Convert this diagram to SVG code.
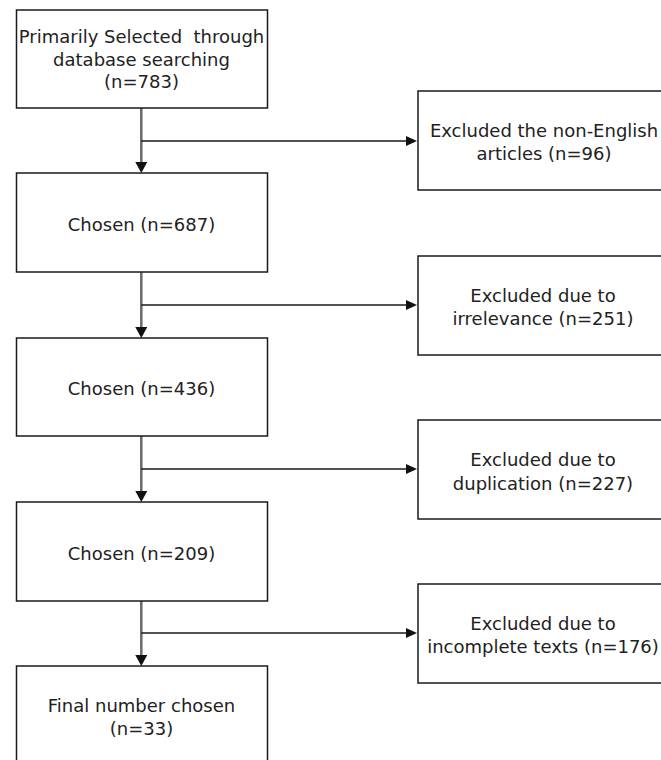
<svg xmlns="http://www.w3.org/2000/svg" width="661" height="760" viewBox="0 0 661 760">
  <style>
    .box { fill: #ffffff; stroke: #1a1a1a; stroke-width: 1.5; }
    .lbl { font-family: "DejaVu Sans", "Liberation Sans", sans-serif; font-size: 18px; fill: #222222; text-anchor: middle; white-space: pre; }
    .vline { stroke: #6a6a6a; stroke-width: 2.5; fill: none; }
    .hline { stroke: #1a1a1a; stroke-width: 1.3; fill: none; }
  </style>
  <defs>
    <marker id="arrowDown" markerUnits="userSpaceOnUse" markerWidth="12" markerHeight="12" refX="0" refY="6" orient="auto">
      <path d="M0,0 L11,6 L0,12 z" fill="#111111"/>
    </marker>
    <marker id="arrowRight" markerUnits="userSpaceOnUse" markerWidth="12" markerHeight="10" refX="0" refY="5" orient="auto">
      <path d="M0,0 L11,5 L0,10 z" fill="#111111"/>
    </marker>
  </defs>
  <rect width="661" height="760" fill="#ffffff"/>

  <g id="connectors">
    <line class="vline" x1="141.3" y1="108" x2="141.3" y2="162" marker-end="url(#arrowDown)"/>
    <line class="hline" x1="141.3" y1="141" x2="406" y2="141" marker-end="url(#arrowRight)"/>
    <line class="vline" x1="141.3" y1="272" x2="141.3" y2="327" marker-end="url(#arrowDown)"/>
    <line class="hline" x1="141.3" y1="305" x2="406" y2="305" marker-end="url(#arrowRight)"/>
    <line class="vline" x1="141.3" y1="436" x2="141.3" y2="491" marker-end="url(#arrowDown)"/>
    <line class="hline" x1="141.3" y1="469" x2="406" y2="469" marker-end="url(#arrowRight)"/>
    <line class="vline" x1="141.3" y1="601" x2="141.3" y2="655" marker-end="url(#arrowDown)"/>
    <line class="hline" x1="141.3" y1="633" x2="406" y2="633" marker-end="url(#arrowRight)"/>
  </g>

  <g id="n1">
    <rect class="box" x="16.5" y="10" width="251" height="98"/>
    <text class="lbl" x="141.5" y="43">Primarily Selected  through</text>
    <text class="lbl" x="141.5" y="66">database searching</text>
    <text class="lbl" x="141.5" y="88">(n=783)</text>
  </g>
  <g id="n2">
    <rect class="box" x="16.5" y="173" width="251" height="99"/>
    <text class="lbl" x="141.5" y="231">Chosen (n=687)</text>
  </g>
  <g id="n3">
    <rect class="box" x="16.5" y="338" width="251" height="98"/>
    <text class="lbl" x="141.5" y="395">Chosen (n=436)</text>
  </g>
  <g id="n4">
    <rect class="box" x="16.5" y="502" width="251" height="99"/>
    <text class="lbl" x="141.5" y="560">Chosen (n=209)</text>
  </g>
  <g id="n5">
    <rect class="box" x="16.5" y="666" width="251" height="98"/>
    <text class="lbl" x="141.5" y="712">Final number chosen</text>
    <text class="lbl" x="141.5" y="735">(n=33)</text>
  </g>

  <g id="r1">
    <rect class="box" x="418" y="91" width="251" height="99"/>
    <text class="lbl" x="544" y="137">Excluded the non-English</text>
    <text class="lbl" x="544" y="160">articles (n=96)</text>
  </g>
  <g id="r2">
    <rect class="box" x="418" y="256" width="251" height="99"/>
    <text class="lbl" x="543" y="302">Excluded due to</text>
    <text class="lbl" x="543" y="325">irrelevance (n=251)</text>
  </g>
  <g id="r3">
    <rect class="box" x="418" y="420" width="251" height="99"/>
    <text class="lbl" x="543" y="466">Excluded due to</text>
    <text class="lbl" x="543" y="490">duplication (n=227)</text>
  </g>
  <g id="r4">
    <rect class="box" x="418" y="584" width="251" height="99"/>
    <text class="lbl" x="543" y="630">Excluded due to</text>
    <text class="lbl" x="543" y="653">incomplete texts (n=176)</text>
  </g>
</svg>
